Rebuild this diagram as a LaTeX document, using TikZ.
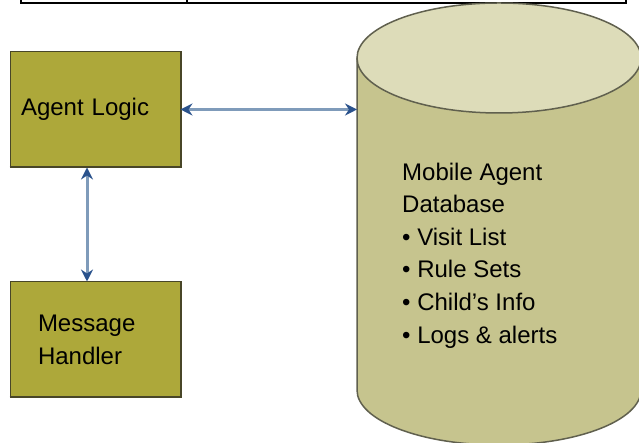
\documentclass[tikz,border=0pt]{standalone}
\usepackage{fontspec}
\setmainfont{Liberation Sans}
\usetikzlibrary{arrows.meta,positioning}

\definecolor{agentolive}{RGB}{173,168,58}
\definecolor{boxedge}{RGB}{72,70,40}
\definecolor{dbside}{RGB}{198,196,142}
\definecolor{dbtop}{RGB}{221,220,185}
\definecolor{dbedge}{RGB}{96,96,78}
\definecolor{linkblue}{RGB}{127,155,186}
\definecolor{tipblue}{RGB}{42,82,140}

\begin{document}
\begin{tikzpicture}[
    x=1pt,y=1pt,
    node distance=114pt,
    block/.style={rectangle,draw=boxedge,line width=1pt,fill=agentolive,minimum width=170pt,minimum height=115pt,align=left,font=\fontsize{24}{33}\selectfont},
    shadowedge/.style={draw=boxedge,line width=2pt},
    link/.style={line width=3pt,draw=linkblue,<->,>={Stealth[length=12pt,width=12pt,inset=4pt,color=tipblue]}}
]
    \clip (0,0) rectangle (639,443);

    % edge of the table above
    \draw[line width=2pt] (21,446) -- (21,440) -- (626,440) -- (626,446);
    \draw[line width=2pt] (187,446) -- (187,440);

    \node[block,text width=148pt,inner xsep=11pt] (logic) at (95,333.5) {Agent Logic};
    \node[block,text width=114pt,inner xsep=28pt,below=of logic] (handler) {Message\\Handler};
    \draw[shadowedge] (logic.south west) -- (logic.south east) -- (logic.north east);
    \draw[shadowedge] (handler.south west) -- (handler.south east) -- (handler.north east);

    % database cylinder
    \fill[dbside] (357,385) -- (357,53) arc[start angle=180,end angle=360,x radius=142,y radius=55] -- (641,385) -- cycle;
    \draw[dbedge,line width=1.5pt] (357,385) -- (357,53) arc[start angle=180,end angle=360,x radius=142,y radius=55] -- (641,385);
    \draw[dbedge,line width=1.5pt,fill=dbtop] (499,385) ellipse[x radius=142,y radius=55];
    \coordinate (dbport) at (357,333.5);

    \node[anchor=north west,align=left,inner sep=0pt,font=\fontsize{24}{32.6}\selectfont] (dbtext) at (402,280.5) {Mobile Agent\\Database\\• Visit List\\• Rule Sets\\• Child’s Info\\• Logs \& alerts};

    \draw[link] (logic.east) -- (dbport);
    \draw[link] ([xshift=-8pt]logic.south) -- ([xshift=-8pt]handler.north);
\end{tikzpicture}
\end{document}
